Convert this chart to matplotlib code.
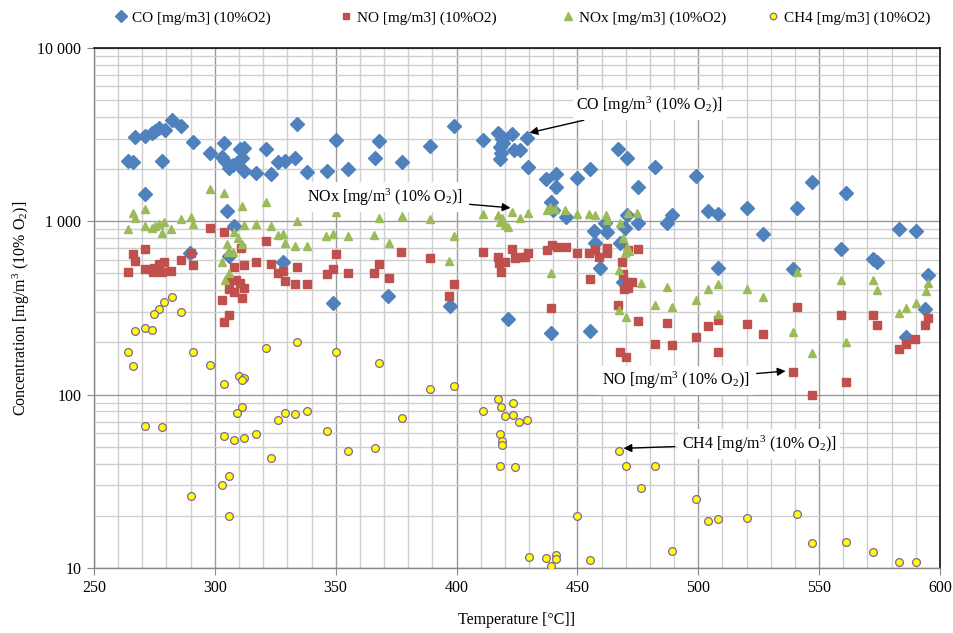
import matplotlib
matplotlib.use("Agg")
import matplotlib.pyplot as plt
from matplotlib.ticker import FixedLocator, FuncFormatter, MultipleLocator, LogLocator, NullFormatter

plt.rcParams['font.family'] = ['Liberation Serif', 'DejaVu Serif']
plt.rcParams['mathtext.fontset'] = 'custom'
plt.rcParams['mathtext.rm'] = 'Liberation Serif'
plt.rcParams['mathtext.it'] = 'Liberation Serif:italic'
plt.rcParams['mathtext.bf'] = 'Liberation Serif:bold'

# ---------------- data ----------------
co_t = [264.1, 266.1, 267.0, 271.1, 271.1, 274.0, 275.2, 276.9, 279.4, 278.1,
        282.3, 286.0, 291.0, 298.0, 303.8, 303.0, 304.2, 305.9, 307.5, 309.2,
        310.4, 312.1, 311.2, 312.1, 317.0, 321.2, 323.2, 326.1, 329.0, 333.2,
        334.0, 305.0, 307.9, 305.9, 328.2, 289.7, 350.1, 367.9, 389.0, 398.9,
        338.1, 346.4, 355.1, 366.3, 377.4, 348.9, 371.6, 397.3, 410.9, 417.2,
        422.9, 429.1, 418.8, 418.0, 419.2, 418.4, 418.0, 423.8, 426.3, 429.6,
        437.0, 441.1, 441.1, 449.8, 455.2, 466.8, 470.5, 475.1, 439.1, 439.9,
        445.3, 456.9, 461.4, 462.2, 469.7, 470.5, 467.6, 457.3, 459.3, 468.9,
        421.3, 439.1, 455.2, 482.1, 499.1, 547.1, 561.1, 504.0, 508.2, 520.2,
        540.9, 489.1, 487.1, 475.1, 526.8, 583.1, 590.1, 559.1, 572.3, 574.0,
        508.2, 539.2, 595.1, 593.8, 586.0]
co_v = [2230, 2200, 3065, 3105, 1437, 3236, 3320, 3450, 3365, 2230,
        3844, 3548, 2870, 2478, 2830, 2350, 2230, 2030, 2113, 2168,
        2614, 2648, 2317, 1950, 1900, 2614, 1875, 2200, 2230, 2317,
        3640, 1146, 940, 631, 582, 660, 2945, 2905, 2720, 3548,
        1925, 1950, 2004, 2317, 2200, 338, 371, 325, 2945, 3236,
        3190, 3025, 2985, 2685, 2830, 2478, 2285, 2578, 2578, 2056,
        1754, 1875, 1577, 1778, 2004, 2614, 2317, 1577, 1292, 1162,
        1059, 879, 977, 867, 914, 1087, 750, 750, 538, 447,
        273, 226, 233, 2056, 1825, 1686, 1456, 1146, 1102, 1194,
        1194, 1087, 977, 977, 845, 903, 879, 692, 606, 582,
        538, 531, 490, 312, 215]

no_t = [298.0, 303.8, 310.8, 271.1, 266.1, 267.0, 290.1, 321.2, 317.0, 312.1,
        307.9, 323.2, 334.0, 326.1, 328.2, 291.0, 286.0, 279.0, 276.9, 274.8,
        271.1, 274.4, 278.1, 281.9, 264.1, 305.9, 308.8, 310.4, 312.1, 305.9,
        307.9, 311.2, 303.0, 329.0, 333.2, 305.9, 303.8, 350.1, 338.1, 346.4,
        348.9, 355.1, 365.8, 367.9, 372.1, 377.0, 389.0, 398.9, 396.9, 410.9,
        417.2, 417.6, 418.4, 420.0, 422.9, 424.2, 426.3, 428.3, 429.6, 437.4,
        439.5, 441.6, 445.3, 449.8, 454.8, 457.3, 458.9, 462.2, 462.2, 439.1,
        455.2, 468.5, 468.9, 470.5, 472.6, 469.3, 466.8, 475.1, 475.1, 470.9,
        470.9, 487.1, 504.0, 508.2, 520.2, 526.8, 540.9, 499.1, 482.1, 489.1,
        559.1, 572.3, 574.0, 595.1, 593.8, 589.7, 586.0, 583.1, 467.6, 470.1,
        508.2, 539.2, 547.1, 561.1]
no_v = [915, 867, 701, 692, 647, 590, 656, 769, 582, 560,
        545, 567, 545, 502, 516, 560, 598, 582, 567, 538,
        531, 510, 510, 516, 510, 458, 458, 440, 412, 407,
        391, 361, 351, 452, 434, 288, 262, 647, 434, 497,
        531, 503, 503, 567, 471, 665, 614, 434, 371, 665,
        622, 574, 510, 582, 692, 614, 622, 622, 656, 683,
        730, 711, 711, 656, 656, 683, 622, 656, 701, 316,
        464, 582, 497, 447, 447, 407, 329, 266, 692, 683,
        412, 259, 249, 270, 256, 224, 321, 215, 196, 194,
        288, 288, 252, 277, 252, 209, 196, 183, 176, 164,
        176, 135, 100, 119]

nox_t = [298.0, 303.8, 271.1, 266.1, 267.0, 311.2, 321.2, 264.1, 271.1, 274.0,
         275.2, 276.9, 279.0, 278.1, 281.9, 286.0, 290.1, 291.0, 307.9, 309.6,
         312.1, 317.0, 323.2, 326.1, 328.2, 334.0, 305.0, 311.2, 329.0, 333.2,
         307.5, 305.4, 303.0, 305.9, 304.2, 350.1, 367.9, 377.4, 389.0, 338.1,
         346.0, 348.9, 355.1, 365.8, 372.1, 398.9, 396.9, 410.9, 417.2, 418.8,
         418.0, 420.0, 421.3, 422.9, 426.3, 429.6, 437.4, 438.7, 440.7, 444.9,
         449.8, 454.8, 457.3, 461.8, 462.2, 470.9, 474.7, 439.1, 467.6, 468.9,
         470.5, 469.7, 471.3, 467.2, 467.2, 470.1, 476.3, 487.1, 504.0, 508.2,
         520.2, 526.8, 540.9, 559.1, 572.3, 574.0, 595.1, 594.2, 482.1, 489.1,
         499.1, 508.2, 539.2, 561.1, 583.1, 586.0, 590.1, 547.1]
nox_v = [1535, 1456, 1178, 1117, 1045, 1225, 1292, 903, 940, 915,
         940, 964, 991, 856, 903, 1031, 1059, 964, 867, 801,
         953, 964, 940, 834, 845, 1004, 740, 740, 750, 720,
         665, 665, 582, 503, 458, 1132, 1045, 1074, 1031, 720,
         823, 845, 823, 834, 750, 823, 590, 1102, 1087, 1045,
         991, 953, 927, 1132, 1045, 1117, 1162, 1208, 1178, 1162,
         1102, 1102, 1087, 1087, 1018, 1117, 1117, 503, 977, 801,
         711, 656, 674, 524, 308, 281, 440, 418, 407, 434,
         407, 366, 510, 458, 458, 402, 440, 396, 329, 321,
         351, 292, 230, 201, 296, 316, 338, 174]

ch4_t = [282.3, 279.0, 276.9, 274.8, 286.0, 267.0, 271.1, 274.0, 264.1, 291.0,
         321.2, 334.0, 266.1, 298.0, 303.8, 310.0, 312.1, 311.2, 311.2, 309.2,
         271.1, 278.1, 303.8, 307.9, 312.1, 317.0, 326.1, 329.0, 333.2, 338.1,
         323.2, 305.9, 303.0, 290.1, 305.9, 350.1, 367.9, 389.0, 398.9, 346.4,
         355.1, 366.3, 377.4, 417.2, 418.4, 410.9, 423.4, 420.0, 423.4, 425.8,
         429.1, 418.0, 418.8, 418.8, 418.0, 424.2, 449.8, 430.0, 437.0, 441.1,
         441.1, 439.1, 455.2, 467.2, 470.1, 482.1, 476.3, 499.1, 489.1, 504.0,
         508.2, 520.2, 540.9, 547.1, 561.1, 572.3, 583.1, 590.1]
ch4_v = [366, 342, 312, 292, 300, 233, 242, 236, 176, 176,
         186, 201, 146, 148, 115, 128, 125, 121, 85, 78,
         66, 65, 58, 55, 56, 59, 71, 78, 77, 80,
         43, 34, 30, 26, 20, 176, 152, 108, 112, 62,
         47, 49, 73, 94, 85, 80, 89, 75, 76, 70,
         71, 59, 54, 51, 39, 38, 20, 11.6, 11.4, 11.9,
         11.3, 10.3, 11.1, 47, 39, 39, 29, 25, 12.6, 18.6,
         19.1, 19.3, 20.4, 13.9, 14.1, 12.4, 10.8, 10.9]

legend_labels = ["CO [mg/m3] (10%O2)", "NO [mg/m3] (10%O2)",
                 "NOx [mg/m3] (10%O2)", "CH4 [mg/m3] (10%O2)"]
ann_labels = [r"CO [mg/m$^3$ (10% O$_2$)]", r"NOx [mg/m$^3$ (10% O$_2$)]",
              r"NO [mg/m$^3$ (10% O$_2$)]", r"CH4 [mg/m$^3$ (10% O$_2$)]"]
ann_tip = [(429.6, 3228), (422.9, 1194), (536.7, 137), (468.5, 49)]
ann_text = [(480.0, 4690), (370.4, 1380), (490.8, 121), (525.1, 52)]

x_ticks = [250, 300, 350, 400, 450, 500, 550, 600]
y_ticks = [10, 100, 1000, 10000]

# ---------------- figure ----------------
fig = plt.figure(figsize=(9.54, 6.33), dpi=100)
ax = fig.add_axes([0.0985, 0.1027, 0.8868, 0.8215])

h_co, = ax.plot(co_t, co_v, linestyle='none', marker='D', markersize=6.8,
                color='#4F81BD', markeredgecolor='#4F81BD', label=legend_labels[0], zorder=3)
h_no, = ax.plot(no_t, no_v, linestyle='none', marker='s', markersize=5.8,
                color='#C0504D', markeredgecolor='#C0504D', label=legend_labels[1], zorder=4)
h_nox, = ax.plot(nox_t, nox_v, linestyle='none', marker='^', markersize=6.3,
                 color='#9BBB59', markeredgecolor='#9BBB59', label=legend_labels[2], zorder=5)
h_ch4, = ax.plot(ch4_t, ch4_v, linestyle='none', marker='o', markersize=5.6,
                 color='#FFFF00', markeredgecolor='#8064A2', markeredgewidth=0.9,
                 label=legend_labels[3], zorder=6)

ax.set_yscale('log')
ax.set_xlim(250, 600)
ax.set_ylim(10, 10000)

ax.xaxis.set_major_locator(FixedLocator(x_ticks))
ax.xaxis.set_minor_locator(MultipleLocator(10))
ax.yaxis.set_major_locator(FixedLocator(y_ticks))
ax.yaxis.set_minor_locator(LogLocator(base=10, subs=range(2, 10)))
ax.yaxis.set_minor_formatter(NullFormatter())
ax.yaxis.set_major_formatter(FuncFormatter(lambda v, p: f"{int(round(v)):,}".replace(",", " ")))

ax.grid(which='major', color='#9a9a9a', linewidth=1.0, zorder=0)
ax.grid(which='minor', color='#cfcfcf', linewidth=1.0, zorder=0)
ax.set_axisbelow(True)

for s in ['left', 'bottom']:
    ax.spines[s].set_color('#888888')
    ax.spines[s].set_linewidth(1.0)
for s in ['top', 'right']:
    ax.spines[s].set_color('#111111')
    ax.spines[s].set_linewidth(1.2)

ax.tick_params(which='major', direction='out', length=5, color='#888888',
               labelsize=11.5, pad=4)
ax.tick_params(which='minor', length=0)

ax.set_xlabel("Temperature [°C]]", fontsize=11.5, labelpad=11)
ax.set_ylabel(r"Concentration [mg/m$^3$ (10% O$_2$)]", fontsize=11.5, labelpad=4)

for lab, tip, txt in zip(ann_labels, ann_tip, ann_text):
    ax.annotate(lab, xy=tip, xytext=txt, ha='center', va='center', fontsize=11.5,
                bbox=dict(boxstyle='square,pad=0.25', fc='white', ec='none'),
                arrowprops=dict(arrowstyle='-|>', color='black', lw=1.0,
                                mutation_scale=12, shrinkA=2, shrinkB=1),
                zorder=8)

legend_x = [0.1205, 0.3564, 0.5891, 0.804]
for h, lx in zip([h_co, h_no, h_nox, h_ch4], legend_x):
    fig.legend(handles=[h], loc='center left', bbox_to_anchor=(lx, 0.9716),
               frameon=False, fontsize=11, handletextpad=0.3, handlelength=0.8,
               markerscale=0.85, borderpad=0, borderaxespad=0)

fig.savefig("out.png", dpi=100)
